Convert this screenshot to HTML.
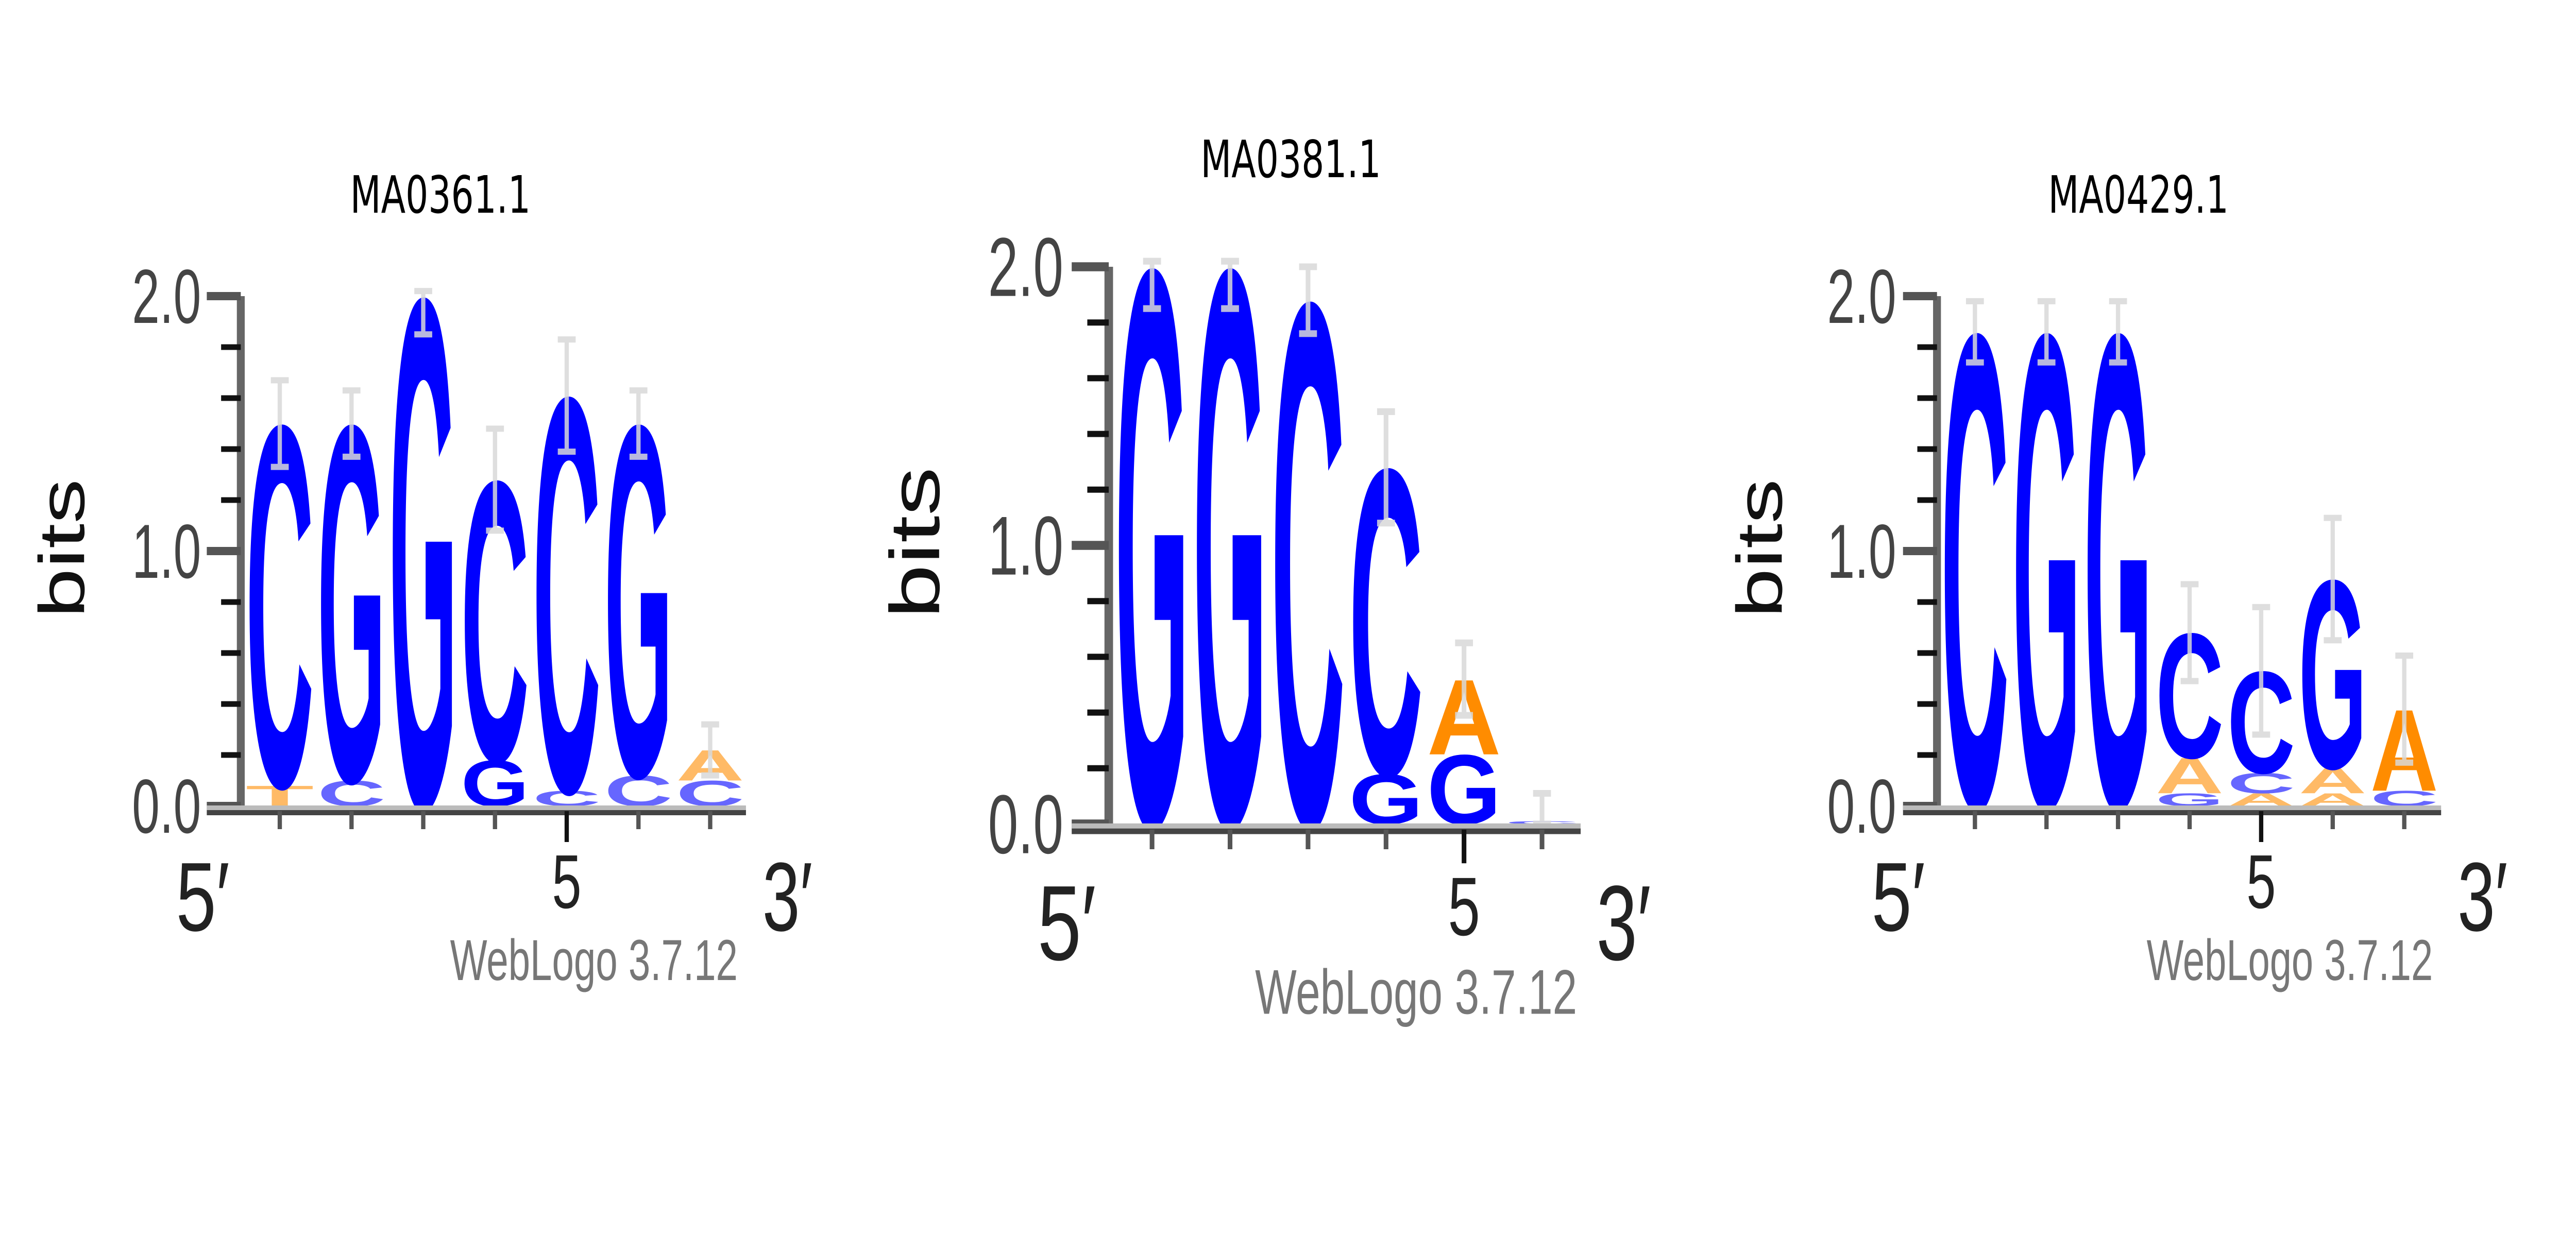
<!DOCTYPE html>
<html><head><meta charset="utf-8">
<style>
html,body{margin:0;padding:0;background:#fff;overflow:hidden;width:100%;height:100%;}
svg{display:block;width:100vw;height:100vh;}
</style></head>
<body>
<svg id="chart" viewBox="0 0 7200 2400" preserveAspectRatio="none" xmlns="http://www.w3.org/2000/svg">
<rect x="0" y="0" width="7200" height="2400" fill="#fff"/>
</svg>
<script>
// ---- data ----
const p1Title = "MA0361.1";
const p1Letters = [["T","C"],["C","G"],["G"],["G","C"],["C","C"],["C","G"],["C","A"]];
const p1Heights = [[0.08,1.42],[0.1,1.4],[2.0],[0.18,1.1],[0.06,1.55],[0.12,1.38],[0.1,0.12]];
const p1Err = [0.17,0.13,0.15,0.2,0.22,0.13,0.1];

const p2Title = "MA0381.1";
const p2Letters = [["G"],["G"],["C"],["G","C"],["G","A"],["C"]];
const p2Heights = [[2.0],[2.0],[1.88],[0.18,1.1],[0.25,0.27],[0.01]];
const p2Err = [0.15,0.15,0.12,0.2,0.13,0.1];

const p3Title = "MA0429.1";
const p3Letters = [["C"],["G"],["G"],["G","A","C"],["A","C","C"],["A","A","G"],["C","A"]];
const p3Heights = [[1.86],[1.86],[1.86],[0.05,0.14,0.49],[0.05,0.08,0.4],[0.05,0.1,0.74],[0.06,0.32]];
const p3Err = [0.12,0.12,0.12,0.19,0.25,0.24,0.21];

const yTicks = [0, 1, 2];
const yTickLabels = ["0.0","1.0","2.0"];

const NS = "http://www.w3.org/2000/svg";
const svg = document.getElementById('chart');
function mk(tag, attrs, parent){
  const e = document.createElementNS(NS, tag);
  for (const k in attrs) e.setAttribute(k, attrs[k]);
  (parent||svg).appendChild(e);
  return e;
}
const colorOf = {A:"#ff8c00", T:"#ff8c00", C:"#0000ff", G:"#0000ff"};

function drawPanel(g, title, letters, heights, errs){
  const grp = mk('g', {});
  
  
  const yS = b => g.y0 - b * g.ppb;
  const xS = i => g.c1 + i * g.sp;
  const s = g.k;
  const t = mk('text', {x:g.tx, y:g.ty + 36, 'font-family':'"DejaVu Sans","Liberation Sans",sans-serif', 'font-size':100, 'text-anchor':'middle', fill:'#000'}, grp);
  t.textContent = title;
  
  
  letters.forEach((col, i) => {
    let acc = 0;
    col.forEach((L, j) => {
      const h = heights[i][j];
      const hp = h * g.ppb;
      const w = g.sp * 0.95;
      if (hp < 1) { acc += h; return; }
      const tx = mk('text', {x:0, y:0, 'font-family':'"Liberation Sans",sans-serif', 'font-weight':'bold', 'font-size':100,
        textLength:w, lengthAdjust:'spacingAndGlyphs', fill:colorOf[L], 'fill-opacity': h < 0.15 ? 0.6 : 1,
        transform:`translate(${xS(i) - w/2},${yS(acc)}) scale(1,${hp/70})`}, grp);
      tx.textContent = L;
      
      
      acc += h;
    });
    const top = Math.min(acc + errs[i], 2.02), bot = Math.max(acc - errs[i], 0);
    const eb = mk('path', {d:`M${xS(i)},${yS(bot)}V${yS(top)}M${xS(i)-25},${yS(top)}H${xS(i)+25}M${xS(i)-25},${yS(bot)}H${xS(i)+25}`, stroke:'#d8d8d8', 'stroke-width':12*s, fill:'none', 'stroke-opacity':0.85}, grp);
    
    
  });
  const ya = mk('line', {x1:g.ax, x2:g.ax, y1:yS(2), y2:g.y0 + 12*s, stroke:'#666', 'stroke-width':22*s}, grp);
  
  
  for (let b = 0; b <= 2.001; b += 0.2) {
    const major = Math.abs(b - Math.round(b)) < 1e-6;
    const tk = mk('line', {x1: g.ax - (major ? 95 : 55)*s, x2:g.ax, y1:yS(b), y2:yS(b), stroke: major ? '#555' : '#111', 'stroke-width':(major?16:11)*s}, grp);
    
    
  }
  yTicks.forEach((v, i) => {
    const lb = mk('text', {x:g.lr, y:yS(v) + 52*s, 'font-family':'"Liberation Sans",sans-serif', 'font-size':149*s, 'text-anchor':'end', fill:'#444', textLength:193*s, lengthAdjust:'spacingAndGlyphs'}, grp);
    lb.textContent = yTickLabels[i];
    
    
  });
  const bl = mk('text', {x:0, y:0, 'font-family':'"Liberation Sans",sans-serif', 'font-size':180*s, 'text-anchor':'middle', fill:'#111',
    textLength:270*s, lengthAdjust:'spacingAndGlyphs', transform:`translate(${g.bx + 65*s},${g.y0 - 1.0*g.ppb - 5}) rotate(-90)`}, grp);
  bl.textContent = 'bits';
  
  
  const xa1 = mk('line', {x1:g.ax - 95*s, x2:g.xe, y1:g.y0 + 4*s, y2:g.y0 + 4*s, stroke:'#bbb', 'stroke-width':10*s}, grp);
  
  
  const xa = mk('line', {x1:g.ax - 95*s, x2:g.xe, y1:g.y0 + 13*s, y2:g.y0 + 13*s, stroke:'#444', 'stroke-width':10*s}, grp);
  
  
  letters.forEach((c, i) => {
    const len = (i === 4) ? 60 : 35;
    const xt = mk('line', {x1:xS(i), x2:xS(i), y1:g.y0 + 10*s, y2:g.y0 + (10 + len)*s, stroke: i===4 ? '#111' : '#555', 'stroke-width':12*s}, grp);
    
    
  });
  const big = {'font-family':'"Liberation Sans",sans-serif', fill:'#222'};
  const l5 = mk('text', Object.assign({x:g.l5, y:g.y0 + 242*s, 'font-size':190*s, textLength:150*s, lengthAdjust:'spacingAndGlyphs'}, big), grp);
  l5.textContent = "5\u2032";
  
  
  const n5 = mk('text', Object.assign({x:xS(4), y:g.y0 + 198*s, 'font-size':148*s, 'text-anchor':'middle'}, big), grp);
  n5.textContent = "5";
  
  
  const l3 = mk('text', Object.assign({x:g.l3, y:g.y0 + 242*s, 'font-size':190*s, textLength:140*s, lengthAdjust:'spacingAndGlyphs'}, big), grp);
  l3.textContent = "3\u2032";
  
  
  const wl = mk('text', {x:g.wx, y:g.y0 + 338*s, 'font-family':'"Liberation Sans",sans-serif', 'font-size':112*s, fill:'#777', textLength:g.ww, lengthAdjust:'spacingAndGlyphs'}, grp);
  wl.textContent = "WebLogo 3.7.12";
  
  
}

drawPanel({ax:673, y0:1565, ppb:495, c1:782, sp:200.5, xe:2085, tx:1231, ty:377, lr:562, bx:170, l5:492, l3:2131, wx:1258, ww:804, k:1},
  p1Title, p1Letters, p1Heights, p1Err);
drawPanel({ax:3099, y0:1600, ppb:541, c1:3220, sp:218, xe:4418, tx:3608, ty:308, lr:2972, bx:2554, l5:2900, l3:4462, wx:3508, ww:900, k:1.09},
  p2Title, p2Letters, p2Heights, p2Err);
drawPanel({ax:5414, y0:1565, ppb:495, c1:5520, sp:200, xe:6823, tx:5977, ty:377, lr:5300, bx:4915, l5:5231, l3:6869, wx:6000, ww:800, k:1},
  p3Title, p3Letters, p3Heights, p3Err);
</script>
</body></html>
